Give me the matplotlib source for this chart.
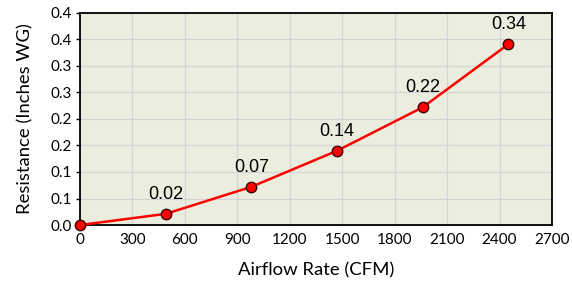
import matplotlib
matplotlib.use("Agg")
import matplotlib.pyplot as plt

# airflow vs resistance
airflow_cfm = [0, 490, 980, 1470, 1960, 2450]
resistance_wg = [0.0, 0.021, 0.072, 0.140, 0.222, 0.341]
point_labels = ["", "0.02", "0.07", "0.14", "0.22", "0.34"]

x_ticks = [0, 300, 600, 900, 1200, 1500, 1800, 2100, 2400, 2700]
y_ticks = [0.0, 0.05, 0.10, 0.15, 0.20, 0.25, 0.30, 0.35, 0.40]
# excel rounds half up, so labels are given explicitly
y_tick_labels = ["0.0", "0.1", "0.1", "0.2", "0.2", "0.3", "0.3", "0.4", "0.4"]

tick_font = ["Lato", "DejaVu Sans"]
label_font = ["Liberation Sans", "DejaVu Sans"]

fig = plt.figure(figsize=(5.72, 2.82), dpi=100)
ax = fig.add_axes([0.1399, 0.2021, 0.8251, 0.7519])
ax.set_facecolor("#EBEEDF")

ax.plot(airflow_cfm, resistance_wg, color="#FF0000", lw=1.8, marker="o",
        ms=7.5, mfc="#FF0000", mec="#3A0000", mew=1.0, zorder=3, clip_on=False)

for xv, yv, txt in zip(airflow_cfm, resistance_wg, point_labels):
    if txt:
        ax.annotate(txt, (xv, yv), xytext=(0, 8), textcoords="offset points",
                    ha="center", va="bottom", fontsize=13, family=label_font,
                    color="#000000")

ax.set_xlim(0, 2700)
ax.set_ylim(0, 0.4)
ax.set_xticks(x_ticks)
ax.set_xticklabels([str(v) for v in x_ticks], family=tick_font, fontsize=11)
ax.set_yticks(y_ticks)
ax.set_yticklabels(y_tick_labels, family=tick_font, fontsize=11)
ax.tick_params(axis="x", length=0, pad=6)
ax.tick_params(axis="y", length=3, width=1, direction="out", pad=3)

ax.grid(True, color="#D4D4D4", lw=0.9)
ax.set_axisbelow(True)
for s in ax.spines.values():
    s.set_color("#000000")
    s.set_linewidth(1.3)

ax.set_xlabel("Airflow Rate (CFM)", family=tick_font, fontsize=13.3, labelpad=11)
ax.set_ylabel("Resistance (Inches WG)", family=tick_font, fontsize=13.3, labelpad=12)

fig.savefig("out.png", dpi=100)
